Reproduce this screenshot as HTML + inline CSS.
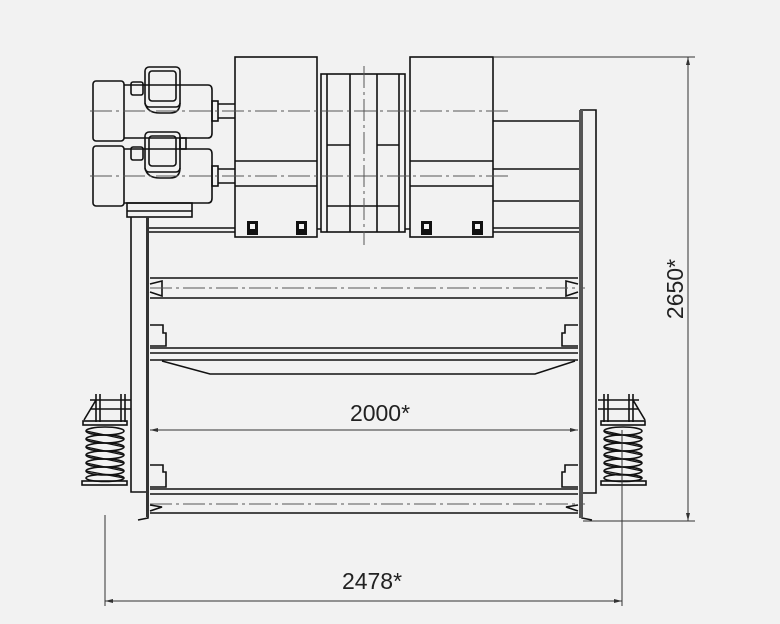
<!DOCTYPE html>
<html><head><meta charset="utf-8"><style>
html,body{margin:0;padding:0;background:#f2f2f2;}
svg{display:block}
text{font-family:"Liberation Sans",sans-serif;fill:#222}
</style></head><body>
<svg width="780" height="624" viewBox="0 0 780 624" xmlns="http://www.w3.org/2000/svg">
<defs>
<g id="coils" fill="none" stroke="#111" stroke-width="1.6">
<ellipse cx="0" cy="431" rx="19" ry="4"/>
<ellipse cx="0" cy="439" rx="19" ry="4"/>
<ellipse cx="0" cy="447" rx="19" ry="4"/>
<ellipse cx="0" cy="455" rx="19" ry="4"/>
<ellipse cx="0" cy="463" rx="19" ry="4"/>
<ellipse cx="0" cy="471" rx="19" ry="4"/>
<ellipse cx="0" cy="478" rx="19" ry="3.5"/>
<path d="M-19 431 L19 439 M-19 439 L19 447 M-19 447 L19 455 M-19 455 L19 463 M-19 463 L19 471 M-19 471 L19 478" stroke-width="1.2"/>
</g>
</defs>
<rect width="780" height="624" fill="#f2f2f2"/>
<g fill="none" stroke="#111" stroke-width="1.6">
<!-- upper motor -->
<rect x="93" y="81" width="31" height="60" rx="3"/>
<path d="M124 85 H208 Q212 85 212 90 V133 Q212 138 208 138 H124"/>
<rect x="131" y="82" width="12" height="13" rx="2"/>
<rect x="145" y="67" width="35" height="40" rx="4"/>
<rect x="149" y="71" width="27" height="30" rx="3"/>
<path d="M145 103 Q147 113 160 113 H170 Q180 113 180 103"/>
<rect x="212" y="101" width="6" height="20"/>
<path d="M218 104 H235 M218 118 H235"/>
<!-- lower motor -->
<rect x="93" y="146" width="31" height="60" rx="3"/>
<path d="M124 149 H208 Q212 149 212 154 V198 Q212 203 208 203 H124"/>
<rect x="131" y="147" width="12" height="13" rx="2"/>
<rect x="145" y="132" width="35" height="40" rx="4"/>
<rect x="149" y="136" width="27" height="30" rx="3"/>
<path d="M145 168 Q147 178 160 178 H170 Q180 178 180 168"/>
<rect x="180" y="138" width="6" height="11"/>
<rect x="212" y="166" width="6" height="20"/>
<path d="M218 169 H235 M218 183 H235"/>
<rect x="127" y="203" width="65" height="14"/>
<path d="M127 211 H192"/>
<!-- gearbox 1 -->
<rect x="235" y="57" width="82" height="180"/>
<path d="M235 161 H317 M235 186 H317"/>
<!-- drum -->
<rect x="321" y="74" width="84" height="158"/>
<path d="M327 74 V232 M350 74 V232 M377 74 V232 M399 74 V232 M327 145 H350 M377 145 H399 M327 206 H399"/>
<path d="M317 229 H321 M405 229 H410"/>
<!-- gearbox 2 -->
<rect x="410" y="57" width="83" height="180"/>
<path d="M410 161 H493 M410 186 H493"/>
<path d="M493 121 H580 M493 169 H580 M493 201 H580 M493 228 H580 M493 232 H580"/>
<!-- left column -->
<path d="M131 217 V492 H148"/>
<path d="M148 228 H235 M148 232 H235"/>
<!-- right column -->
<path d="M580 110 H596 V493 H583"/>
<!-- beams -->
<path d="M150 278 H578 M150 298 H578"/>
<path d="M150 348 H578 M150 353 H578 M150 360 H578"/>
<path d="M162 361 L210 374 H535 L575 361"/>
<path d="M150 489 H578 M150 494 H578 M150 513 H578"/>
<!-- small brackets -->
<path d="M150 325 H163 V333 H166 V346 H150 M578 325 H565 V333 H562 V346 H578"/>
<path d="M150 465 H163 V472 H166 V487 H150 M578 465 H565 V472 H562 V487 H578"/>
<path d="M150 284 L162 281 V296 L150 292 M578 284 L566 281 V296 L578 292"/>
<path d="M150 505 L162 507 L150 511 M578 505 L566 507 L578 511"/>
<path d="M148 500 V518 L138 520 M582 500 V518 L592 520"/>
<!-- springs left bracket -->
<path d="M96 394 V422 M100 394 V422 M121 394 V422 M125 394 V422 M90 400 H131 M90 409 H131 M96 400 L84 420"/>
<rect x="83" y="421" width="44" height="4"/>
<rect x="82" y="481" width="45" height="4"/>
<!-- springs right bracket -->
<path d="M604 394 V422 M608 394 V422 M629 394 V422 M633 394 V422 M598 400 H639 M598 409 H639 M633 400 L645 420"/>
<rect x="601" y="421" width="44" height="4"/>
<rect x="601" y="481" width="45" height="4"/>
</g>
<use href="#coils" transform="translate(105 0)"/>
<use href="#coils" transform="translate(623 0)"/>
<!-- thick dark column lines -->
<rect x="146" y="217" width="3" height="300" fill="#333"/>
<rect x="579" y="110" width="4" height="408" fill="#555"/>
<!-- feet -->
<g fill="#111">
<rect x="247" y="221" width="11" height="14"/><rect x="296" y="221" width="11" height="14"/>
<rect x="421" y="221" width="11" height="14"/><rect x="472" y="221" width="11" height="14"/>
</g>
<g fill="#f2f2f2"><rect x="250" y="224" width="5" height="5"/><rect x="299" y="224" width="5" height="5"/><rect x="424" y="224" width="5" height="5"/><rect x="475" y="224" width="5" height="5"/></g>
<!-- centerlines -->
<g stroke="#555" stroke-width="1" fill="none" stroke-dasharray="22 4 3 4">
<path d="M90 111 H510"/>
<path d="M90 176 H510"/>
<path d="M364 66 V245"/>
<path d="M150 288 H585"/>
<path d="M150 504 H585"/>
</g>
<!-- dimensions -->
<g stroke="#333" stroke-width="1" fill="none">
<path d="M150 430 H578"/>
<path d="M105 515 V606 M622 430 V606 M105 601 H622"/>
<path d="M493 57 H695 M583 521 H695 M688 57 V521"/>
</g>
<g fill="#333">
<path d="M150 430 l8 -2 v4z M578 430 l-8 -2 v4z"/>
<path d="M105 601 l8 -2 v4z M622 601 l-8 -2 v4z"/>
<path d="M688 57 l-2 8 h4z M688 521 l-2 -8 h4z"/>
</g>
<text x="380" y="421" font-size="23" text-anchor="middle">2000*</text>
<text x="372" y="589" font-size="23" text-anchor="middle">2478*</text>
<text transform="translate(683 289) rotate(-90)" font-size="23" text-anchor="middle">2650*</text>
</svg>
</body></html>
